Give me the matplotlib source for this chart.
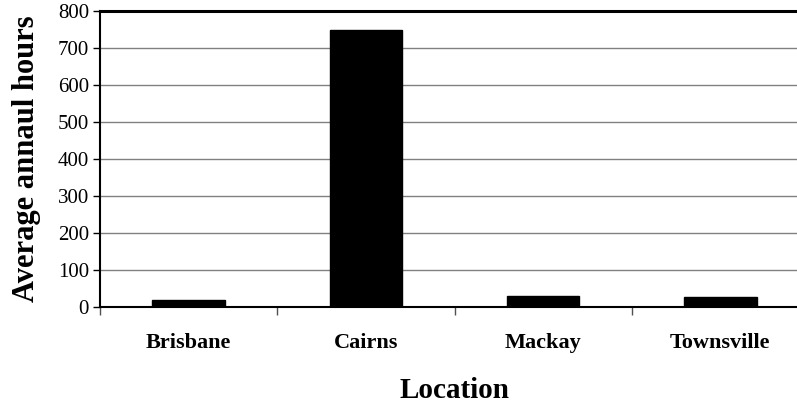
import matplotlib.pyplot as plt

# data
locations = ["Brisbane", "Cairns", "Mackay", "Townsville"]
hours = [20, 748, 31, 28]

plt.rcParams['font.family'] = ['Liberation Serif', 'DejaVu Serif']

fig = plt.figure(figsize=(7.97, 4.04), dpi=100)
ax = fig.add_axes([0.1255, 0.24, 0.8896, 0.7328])

x = range(len(locations))
ax.bar(x, hours, width=0.41, color="black", edgecolor="black", zorder=3)

ax.set_xlim(-0.5, len(locations) - 0.5)
ax.set_ylim(0, 800)
ax.set_yticks(range(0, 801, 100))
ax.yaxis.grid(True, color="#808080", linewidth=1.0, zorder=0)
ax.set_axisbelow(True)

# category ticks sit between the bars
ax.set_xticks([i - 0.5 for i in range(len(locations) + 1)])
ax.set_xticklabels([])
ax.set_xticks(list(x), minor=True)
ax.set_xticklabels(locations, minor=True, fontsize=16, fontweight="bold")
ax.tick_params(axis="x", which="major", direction="out", length=6, width=1, color="#505050")
ax.tick_params(axis="x", which="minor", length=0, pad=19)
ax.tick_params(axis="y", direction="out", length=5, width=1, labelsize=15, pad=3)

ax.spines["right"].set_visible(False)
ax.spines["top"].set_linewidth(2.2)
ax.spines["left"].set_linewidth(1.5)
ax.spines["bottom"].set_linewidth(1.5)

ax.set_xlabel("Location", fontsize=21, fontweight="bold", labelpad=17)
ax.set_ylabel("Average annaul hours", fontsize=22, fontweight="bold", labelpad=12)

fig.savefig("out.png", dpi=100)
